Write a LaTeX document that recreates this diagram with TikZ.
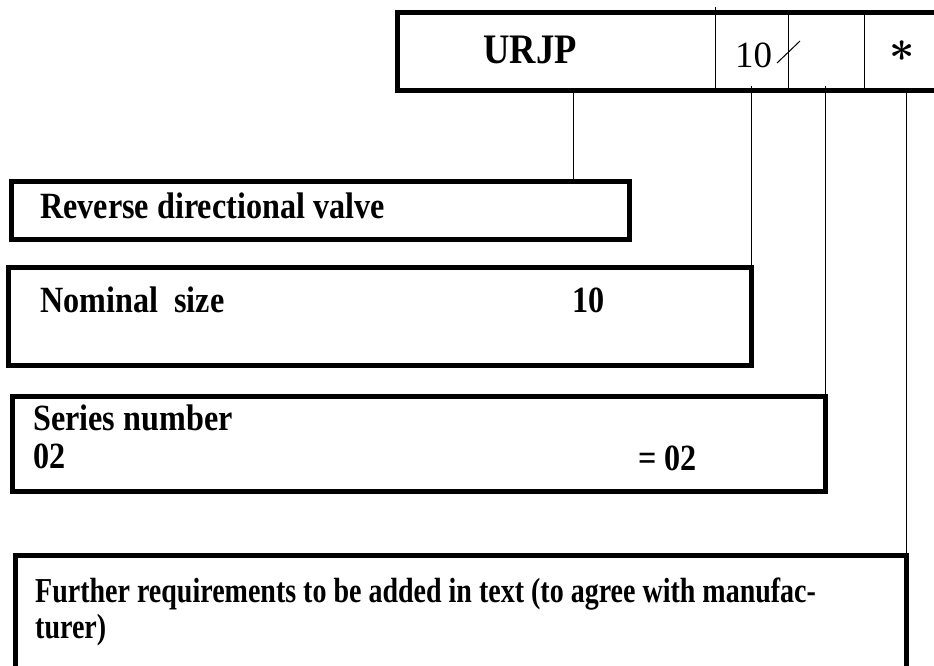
\documentclass[tikz,border=0pt]{standalone}
\usepackage{amsmath}
\usepackage{fontspec}
\setmainfont{Liberation Serif}
\newfontfamily\lblfont[FakeStretch=0.87]{Liberation Serif}
\newfontfamily\notefont[FakeStretch=0.80]{Liberation Serif}
\tikzset{
    box/.style={draw, rectangle, line width=5pt, inner sep=0pt, outer sep=0pt},
    wire/.style={line width=1pt},
    lbl/.style={anchor=base west, inner sep=0pt, font=\lblfont\bfseries\fontsize{37}{40}\selectfont},
    note/.style={lbl, font=\notefont\bfseries\fontsize{35}{38}\selectfont}
}
\begin{document}
\begin{tikzpicture}[x=1pt,y=-1pt]
\useasboundingbox (0,0) rectangle (934,665);
% Type code
\node[box, minimum width=545pt, minimum height=78pt] (code) at (670,51.5){};
\coordinate (c1) at (715,7);
\coordinate (c2) at (788,0);
\coordinate (c3) at (864,0);
\draw[wire] (c1) -- (c1 |- code.south);
\foreach \c in {c2,c3}
    \draw[wire] (\c |- code.north) -- (\c |- code.south);
\node[anchor=base, inner sep=0pt, font=\lblfont\bfseries\fontsize{42}{44}\selectfont] (type) at (530,63){URJP};
\node[anchor=base west, inner sep=0pt, font=\fontsize{37}{40}\selectfont] (size) at (735,67){10};
\draw[wire] (777,63) -- (800,41);
\node[anchor=center, inner sep=0pt] (opt) at (902,51){\scalebox{4.4}{$\boldsymbol{\ast}$}};
% Boxes
\node[box, minimum width=618.5pt, minimum height=58pt] (valve) at (320.25,210.5){};
\node[box, minimum width=743.5pt, minimum height=97.5pt] (nominal) at (379.75,316.25){};
\node[box, minimum width=813pt, minimum height=95pt] (series) at (419,443.5){};
\node[box, minimum width=891pt, minimum height=134.5pt] (further) at (461,622.75){};
% Texts
\node[lbl] (valvetxt) at (40,218){Reverse directional valve};
\node[lbl] (nomtxt) at (40,312){Nominal\ \ size};
\node[lbl] (nomval) at (572,312){10};
\node[lbl] (sertxt) at (33,430){Series number};
\node[lbl] (serkey) at (33,468){02};
\node[lbl] (serval) at (638,470){= 02};
\node[note] (furtxt) at (35,602){Further requirements to be added in text (to agree with manufac-};
\node[note] (furtxt2) at (35,638){turer)};
% Connection
\coordinate (t1) at (573,0);
\coordinate (tap) at ([yshift=5pt]code.south);
\draw[wire] (code.south -| t1) -- (valve.north -| t1);
\draw[wire] (tap -| nominal.east) -- (nominal.north east);
\draw[wire] (tap -| series.east) -- (series.north east);
\draw[wire] (code.south -| further.east) -- (further.north east);
\end{tikzpicture}
\end{document}
